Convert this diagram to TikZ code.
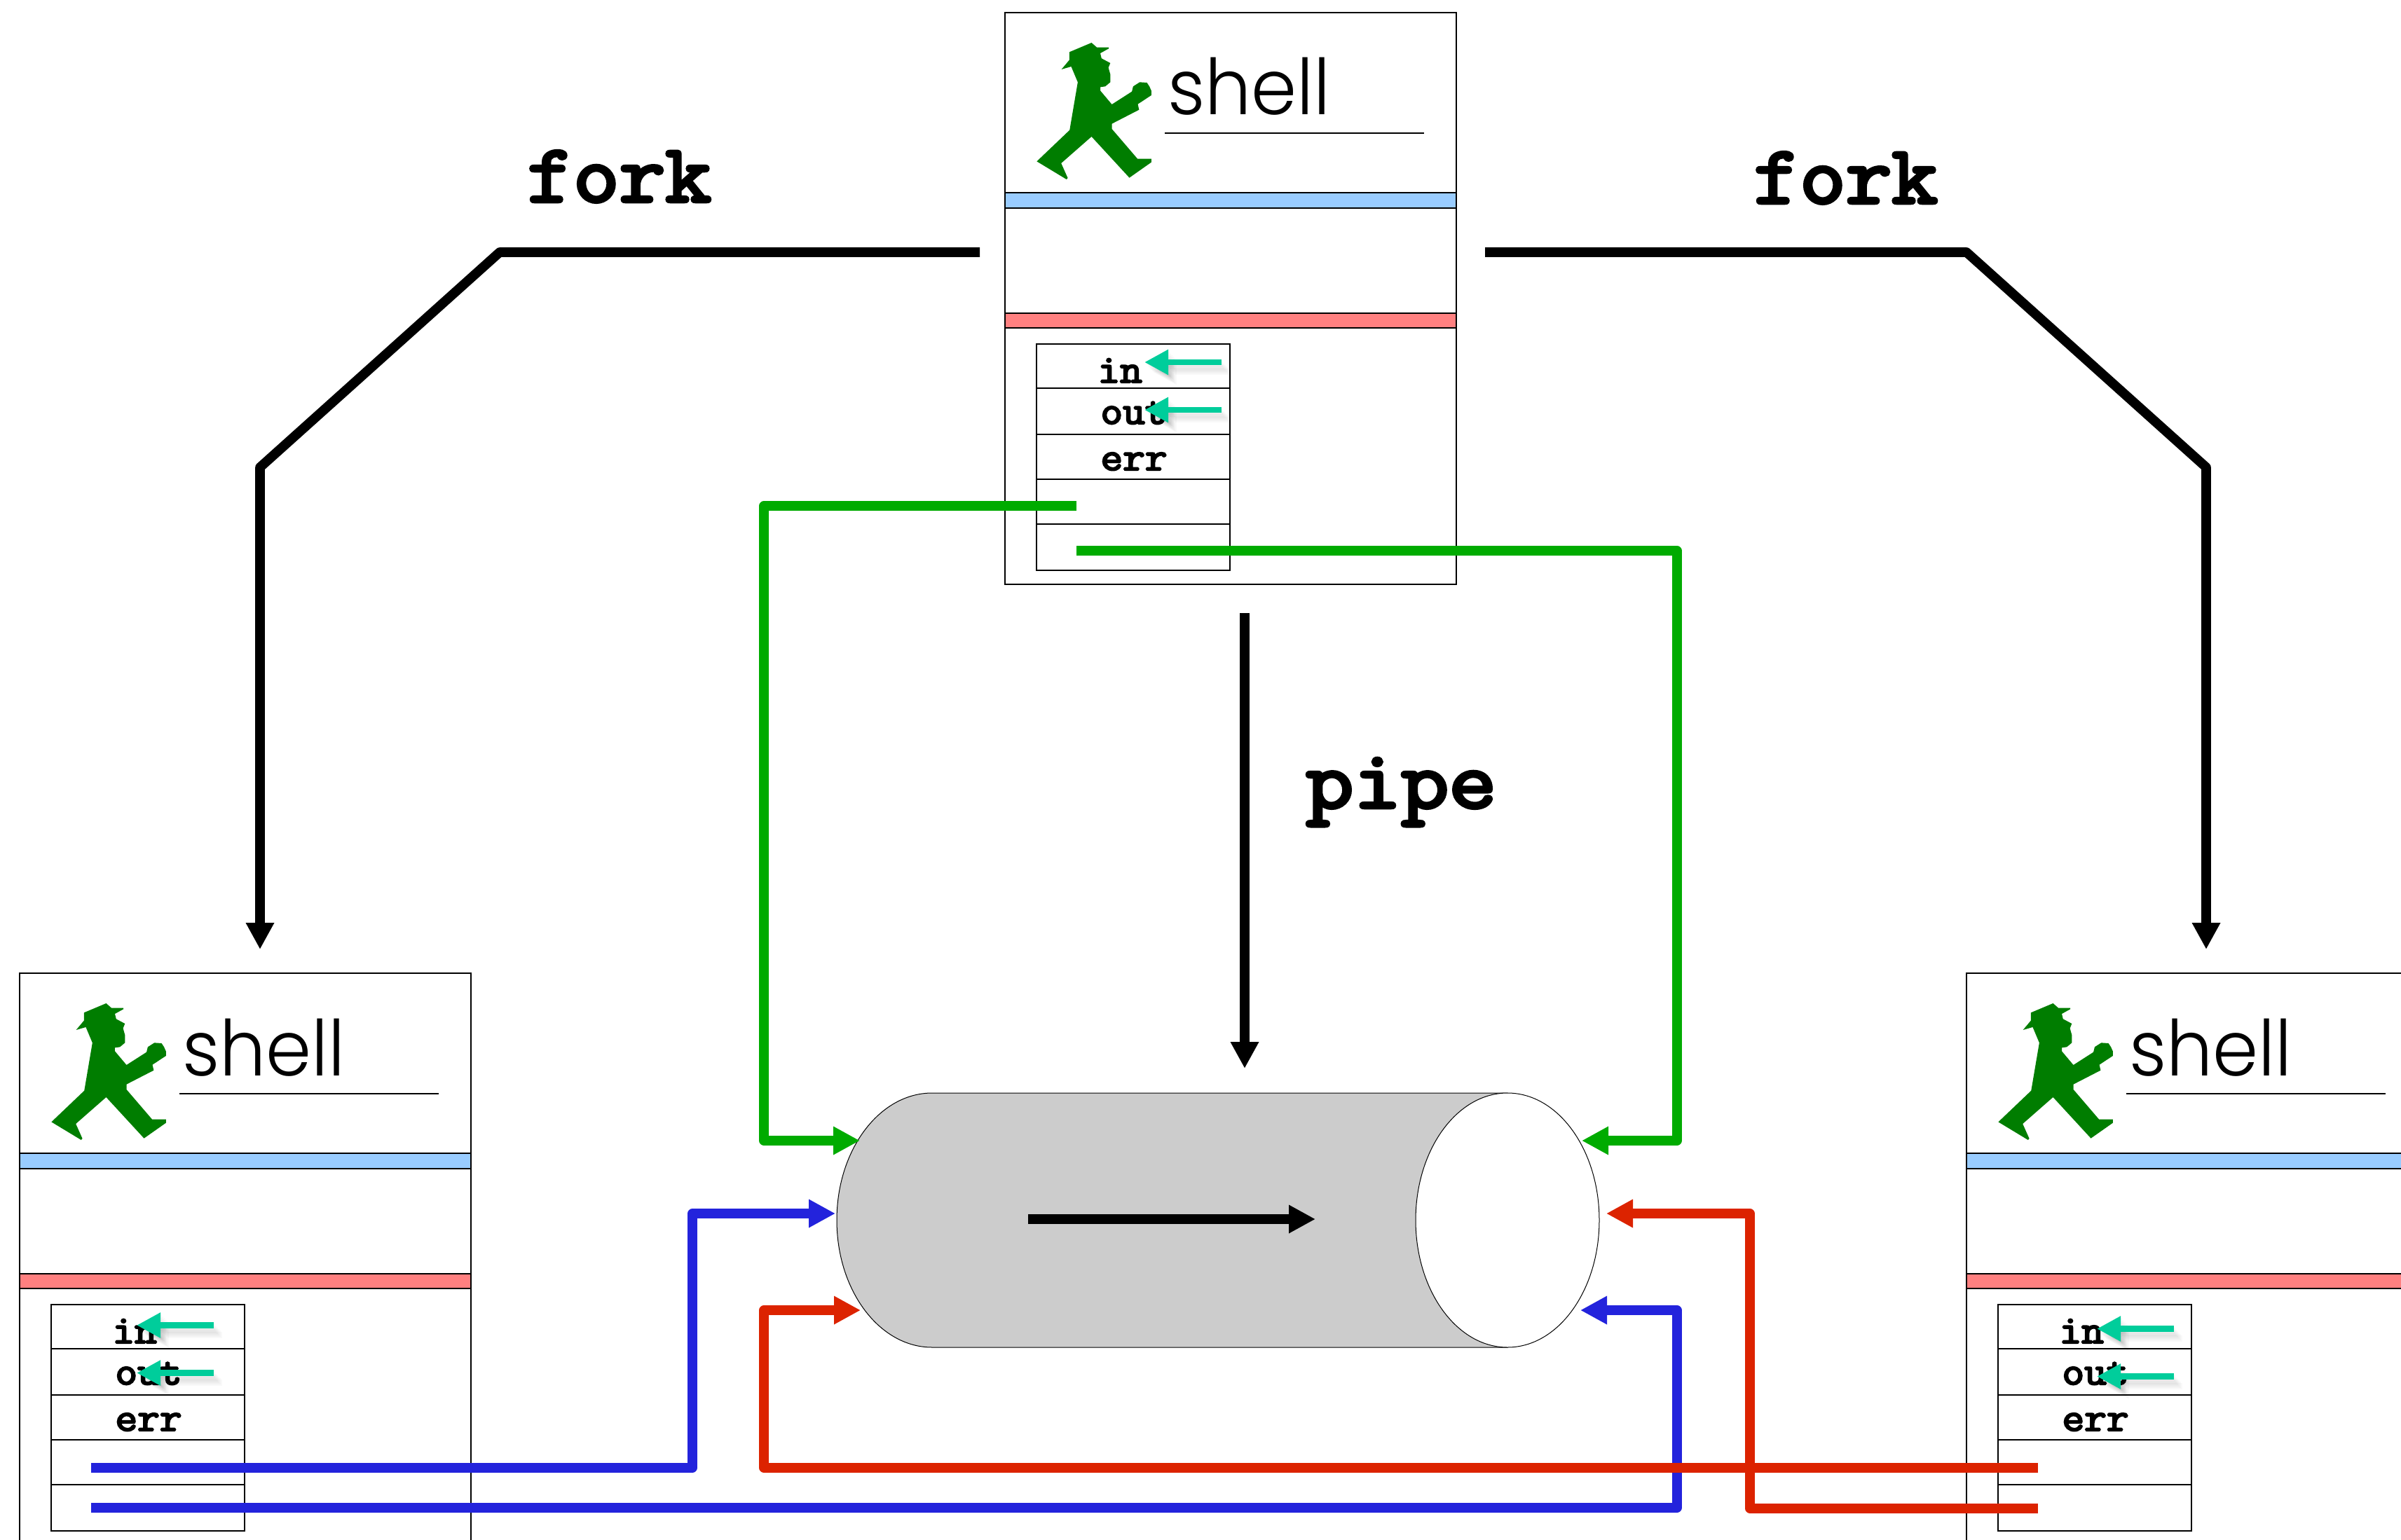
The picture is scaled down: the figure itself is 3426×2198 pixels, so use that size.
\documentclass[tikz,border=0pt]{standalone}
\usepackage{fontspec}
\usetikzlibrary{arrows.meta,calc}
\newfontfamily\shellfont{Poppins Light}
\newfontfamily\heavymono{Latin Modern Mono}[UprightFeatures={FakeBold=4}]
\definecolor{walkgreen}{RGB}{0,125,0}
\definecolor{bandblue}{RGB}{153,204,255}
\definecolor{bandred}{RGB}{255,128,128}
\definecolor{tealc}{RGB}{0,205,155}
\definecolor{pgreen}{RGB}{0,171,0}
\definecolor{pblue}{RGB}{35,35,220}
\definecolor{pred}{RGB}{220,35,0}
\definecolor{pipegray}{RGB}{204,204,204}
\tikzset{
  outline/.style={draw=black,line width=1.1pt},
  band/.style={draw=black,line width=1.4pt},
  cellline/.style={draw=black,line width=1.2pt},
  fdlabel/.style={inner sep=0pt,anchor=base west,font=\heavymono\fontsize{28.5}{30}\selectfont,xscale=1.08},
  biglabel/.style={inner sep=0pt,anchor=base west,font=\heavymono\fontsize{59}{60}\selectfont,xscale=1.08},
  shelllabel/.style={inner sep=0pt,anchor=base west,font=\shellfont\fontsize{55}{60}\selectfont,xscale=0.95},
  fdarrow/.style={draw=tealc,line width=4.35pt,-{Triangle[length=17pt,width=17pt,fill=tealc]}},
  fdshadow/.style={draw=black,line width=4.35pt,-{Triangle[length=17pt,width=17pt]},opacity=0.025,draw opacity=0.025,fill opacity=0.025},
  blackconn/.style={draw=black,line width=6.8pt,line join=round,-{Triangle[length=19pt,width=19pt,fill=black]}},
  colorconn/.style={draw=#1,line width=6.6pt,line join=round,-{Triangle[length=19pt,width=19pt,fill=#1]}},
}
\newcommand{\shellbox}[5]{%
\begin{scope}[shift={(#2,#3)}]
  \draw[outline] (1434,18) rectangle (2078,834);
  \draw[band,fill=bandblue] (1434,275) rectangle (2078,297);
  \draw[band,fill=bandred] (1434,447) rectangle (2078,468);
  \begin{scope}[shift={(1420,0)},x=0.22321pt,y=-0.16667pt]
    \fill[walkgreen] (308,183)--(325,203)--(363,203)--(363,208)--(336,228)--(340,250)--(368,270)--(362,290)--(368,318)--(368,352)--(352,370)--(336,373)--(336,388)--(373,447)--(437,392)--(441,370)--(462,352)--(485,354)--(493,370)--(499,388)--(499,408)--(456,446)--(460,470)--(373,530)--(373,552)--(455,680)--(499,680)--(499,695)--(429,761)--(308,585)--(211,699)--(232,762)--(228,768)--(133,691)--(238,557)--(264,352)--(243,285)--(212,297)--(237,257)--(237,223)--cycle;
  \end{scope}
  \node[shelllabel] (#1shell) at (1666,164) {shell};
  \draw[line width=1.2pt] (1662,190) -- (2032,190);
  \draw[cellline] (1479,491) rectangle (1755,814);
  \draw[cellline] (1479,554) -- (1755,554);
  \draw[cellline] (1479,620) -- (1755,620);
  \draw[cellline] (1479,684) -- (1755,684);
  \draw[cellline] (1479,748) -- (1755,748);
  \node[fdlabel] (#1in) at (1566,546) {in};
  \node[fdlabel] (#1out) at (1570,605) {out};
  \node[fdlabel] (#1err) at (1570,671) {err};
  \coordinate (#1inS) at (1743+#4,517+#5);
  \coordinate (#1inT) at (1633+#4,517+#5);
  \coordinate (#1outS) at (1743+#4,585+#5);
  \coordinate (#1outT) at (1633+#4,585+#5);
  \foreach \ox/\oy in {2/3,4/6,6/8,8/10,10/12,12/14}{
    \draw[fdshadow] ($(#1inS)+(\ox,\oy)$) -- ($(#1inT)+(\ox,\oy)$);
    \draw[fdshadow] ($(#1outS)+(\ox,\oy)$) -- ($(#1outT)+(\ox,\oy)$);
  }
  \draw[fdarrow] (#1inS) -- (#1inT);
  \draw[fdarrow] (#1outS) -- (#1outT);
\end{scope}}
\begin{document}
\begin{tikzpicture}[x=0.5pt,y=-0.5pt]
\clip (0,0) rectangle (3426,2198);
\fill[white] (0,0) rectangle (3426,2198);
\shellbox{t}{0}{0}{0}{0}
\shellbox{l}{-1406}{1371}{-32}{3.5}
\shellbox{r}{1372}{1371}{-13}{8.5}
% pipe
\draw[fill=pipegray,line width=0.5pt] (2151,1560) -- (1330,1560)
  .. controls (1255,1560) and (1194,1641) .. (1194,1741.5)
  .. controls (1194,1842) and (1255,1923) .. (1330,1923) -- (2151,1923) -- cycle;
\draw[fill=white,line width=0.5pt] (2151,1741.5) ellipse [x radius=131,y radius=181.5];
\coordinate (flowS) at (1467,1740);
\coordinate (flowT) at (1877,1740);
\draw[blackconn] (flowS) -- (flowT);
% labels
\node[biglabel] (forkL) at (752,288) {fork};
\node[biglabel] (forkR) at (2502,290) {fork};
\node[biglabel,xscale=1.035] (pipeL) at (1863,1153) {pipe};
% fork / pipe connectors
\coordinate (fl0) at (1398,360); \coordinate (fl1) at (713,360); \coordinate (fl2) at (371,667); \coordinate (fl3) at (371,1355);
\draw[blackconn] (fl0) -- (fl1) -- (fl2) -- (fl3);
\coordinate (fr0) at (2119,360); \coordinate (fr1) at (2806,360); \coordinate (fr2) at (3148,667); \coordinate (fr3) at (3148,1355);
\draw[blackconn] (fr0) -- (fr1) -- (fr2) -- (fr3);
\coordinate (p0) at (1776,875); \coordinate (p1) at (1776,1525);
\draw[blackconn] (p0) -- (p1);
% green
\coordinate (g0) at (1536,722); \coordinate (g1) at (1090,722); \coordinate (g2) at (1090,1628); \coordinate (g3) at (1227,1628);
\draw[colorconn=pgreen] (g0) -- (g1) -- (g2) -- (g3);
\coordinate (h0) at (1536,786); \coordinate (h1) at (2393,786); \coordinate (h2) at (2393,1628); \coordinate (h3) at (2257,1628);
\draw[colorconn=pgreen] (h0) -- (h1) -- (h2) -- (h3);
% blue
\coordinate (b0) at (130,2095); \coordinate (b1) at (988,2095); \coordinate (b2) at (988,1732); \coordinate (b3) at (1192,1732);
\draw[colorconn=pblue] (b0) -- (b1) -- (b2) -- (b3);
\coordinate (c0) at (130,2152); \coordinate (c1) at (2393,2152); \coordinate (c2) at (2393,1870); \coordinate (c3) at (2255,1870);
\draw[colorconn=pblue] (c0) -- (c1) -- (c2) -- (c3);
% red
\coordinate (d0) at (2908,2095); \coordinate (d1) at (1090,2095); \coordinate (d2) at (1090,1870); \coordinate (d3) at (1228,1870);
\draw[colorconn=pred] (d0) -- (d1) -- (d2) -- (d3);
\coordinate (e0) at (2908,2153); \coordinate (e1) at (2497,2153); \coordinate (e2) at (2497,1732); \coordinate (e3) at (2292,1732);
\draw[colorconn=pred] (e0) -- (e1) -- (e2) -- (e3);
\end{tikzpicture}
\end{document}
